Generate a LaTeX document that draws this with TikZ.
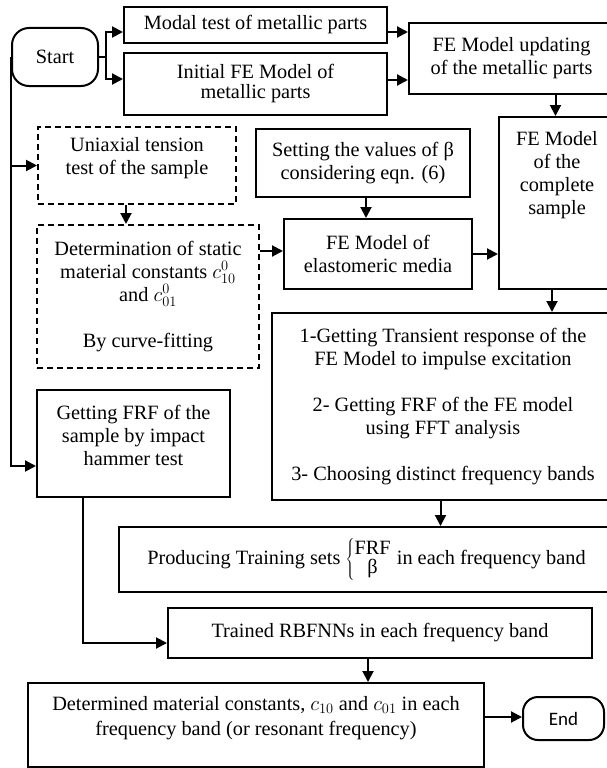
\documentclass[tikz,border=0pt]{standalone}
\usepackage{fontspec}
\setmainfont{Liberation Serif}
\newfontfamily\endfont{Carlito}
\usetikzlibrary{arrows.meta}
\begin{document}
\begin{tikzpicture}[x=1pt,y=-1pt,
  box/.style={draw,line width=2pt,align=center,inner sep=0pt,
    font=\fontsize{20.3}{23}\selectfont},
  dbox/.style={box,dash pattern=on 6pt off 4pt},
  term/.style={box,rounded corners=17pt},
  arr/.style={line width=2pt,-{Triangle[length=11pt,width=11pt]}},
  ln/.style={line width=2pt}]
\useasboundingbox (0,0) rectangle (606,768);

% nodes
\node[term,minimum width=86pt,minimum height=58pt] (start) at (55,57) {Start};
\node[box,minimum width=263pt,minimum height=36pt] (modal) at (255.5,25) {Modal test of metallic parts};
\node[box,minimum width=263pt,minimum height=62pt,font=\fontsize{20.3}{20}\selectfont] (init) at (255.5,84) {Initial FE Model of\\metallic parts};
\node[box,minimum width=205pt,minimum height=71pt] (upd) at (511.5,58.5) {FE Model updating\\of the metallic parts};
\node[dbox,minimum width=198pt,minimum height=77pt] (uni) at (137,165.5) {Uniaxial tension\\test of the sample\\[-4pt]};
\node[box,minimum width=214pt,minimum height=68pt] (set) at (363,163) {Setting the values of β\\considering eqn. (6)};
\node[dbox,minimum width=222pt,minimum height=143pt] (det) at (148,296.5)
  {Determination of static\\material constants $c^{0}_{10}$\\and $c^{0}_{01}$\\[23pt]By curve-fitting};
\node[box,minimum width=188pt,minimum height=70pt] (elas) at (378,254) {FE Model of\\elastomeric media};
\node[box,minimum width=115pt,minimum height=172pt] (comp) at (556.5,203) {};
\node[anchor=north,align=center,inner sep=0pt,font=\fontsize{20.3}{23}\selectfont] (comptxt) at (557,131) {FE Model\\of the\\complete\\sample};
\node[box,minimum width=342pt,minimum height=187pt] (big) at (443,406.5)
  {1-Getting Transient response of the\\FE Model to impulse excitation\\[23pt]2- Getting FRF of the FE model\\using FFT analysis\\[23pt]3- Choosing distinct frequency bands};
\node[box,minimum width=193pt,minimum height=107pt] (frf) at (133.5,443.5) {Getting FRF of the\\sample by impact\\hammer test\\[-6pt]};
\node[box,minimum width=495pt,minimum height=65pt] (prod) at (366.5,559.5)
  {Producing Training sets $\left\{\begin{tabular}{@{}c@{}}FRF\\[-4pt]β\end{tabular}\right.$ in each frequency band};
\node[box,minimum width=424pt,minimum height=50pt] (trained) at (380,633) {Trained RBFNNs in each frequency band};
\node[box,minimum width=456pt,minimum height=84pt,font=\fontsize{20.3}{25}\selectfont] (detd) at (256,725)
  {Determined material constants, $c_{10}$ and $c_{01}$ in each\\frequency band (or resonant frequency)\\[-6pt]};
\node[term,minimum width=81pt,minimum height=43pt,rounded corners=15pt,font=\endfont\fontsize{19}{22}\selectfont] (endn) at (563.5,718.5) {End};

% connectors
\coordinate (sj) at (106,57);
\draw[ln] (start.east) -- (sj);
\draw[arr] (sj) |- ([yshift=-7pt]modal.west);
\draw[arr] (sj) |- ([yshift=5pt]init.west);
\draw[arr] ([yshift=-7pt]modal.east) -- ([yshift=-7pt]modal.east -| upd.west);
\draw[arr] ([yshift=4pt]init.east) -- ([yshift=4pt]init.east -| upd.west);
\draw[arr] ([xshift=-1pt]comp.north |- upd.south) -- ([xshift=-1pt]comp.north);
\draw[arr] (start.west) |- ([yshift=-22.5pt]frf.west);
\draw[arr] (start.west |- uni.west) -- (uni.west);
\draw[arr] ([xshift=-11pt]uni.south) -- ([xshift=-11pt]uni.south |- det.north);
\draw[arr] ([yshift=3pt]det.east |- elas.west) -- ([yshift=3pt]elas.west);
\draw[arr] ([xshift=3pt]set.south) -- ([xshift=3pt]set.south |- elas.north);
\draw[arr] (elas.east) -- (elas.east -| comp.west);
\draw[arr] ([xshift=-4.5pt]comp.south) -- ([xshift=-4.5pt]comp.south |- big.north);
\draw[arr] ([xshift=-2.5pt]big.south) -- ([xshift=-2.5pt]big.south |- prod.north);
\draw[arr] ([xshift=-50.5pt]frf.south) |- ([yshift=-10pt]trained.west);
\draw[arr] ([xshift=-12pt]trained.south) -- ([xshift=-12pt]trained.south |- detd.north);
\draw[arr] ([yshift=8pt]detd.east) -- ([yshift=8pt]detd.east -| endn.west);
\end{tikzpicture}
\end{document}
